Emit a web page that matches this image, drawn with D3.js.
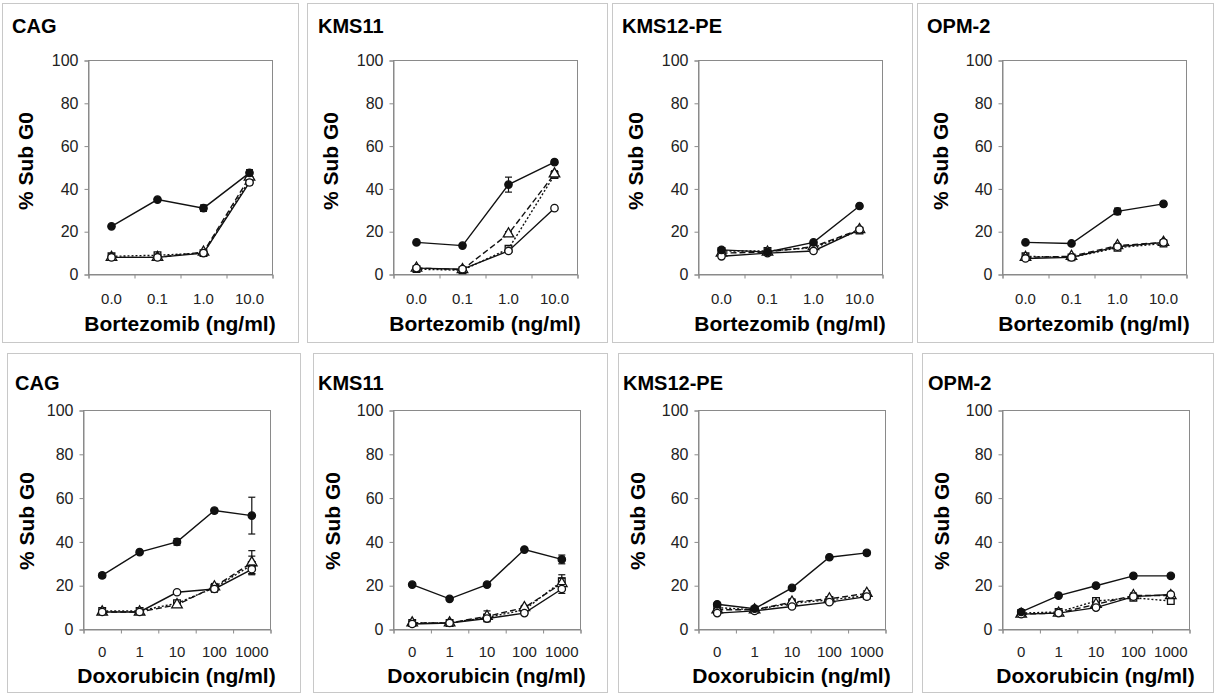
<!DOCTYPE html>
<html>
<head>
<meta charset="utf-8">
<script src="https://cdn.jsdelivr.net/npm/d3@7"></script>
<style>
  body { margin:0; background:#fff; }
  svg text { font-family: "Liberation Sans", Arial, sans-serif; }
</style>
</head>
<body>
<div id="canvas"></div>
<script>
// ---- data ----
var cellLines = ['CAG', 'KMS11', 'KMS12-PE', 'OPM-2'];
var bortDoses = ['0.0', '0.1', '1.0', '10.0'];
var doxDoses = ['0', '1', '10', '100', '1000'];
var drugLabels = ['Bortezomib (ng/ml)', 'Doxorubicin (ng/ml)'];
var yTicks = [0, 20, 40, 60, 80, 100];

// each panel: 4 series (filled circle/solid, open circle/solid, triangle/dashed, square/dotted)
var bortCAG = [[22.5, 35, 31, 47.5], [8, 8, 10, 43], [8, 8, 10.5, 45.5], [8.5, 9, 10, 44]];
var bortCAGErr = [[0.8, 0.6, 1.5, 1.5], [0.5, 0.5, 0.6, 1.2], [0.5, 0.5, 0.6, 1.5], [0.5, 0.8, 0.6, 1.5]];
var bortKMS11 = [[15, 13.5, 42, 52.5], [3, 2.5, 11, 31], [3, 2.3, 19, 47], [2.5, 2, 12, 46.5]];
var bortKMS11Err = [[0.5, 0.8, 3.5, 1], [0.5, 0.5, 0.8, 0.8], [0.5, 0.5, 1, 1.5], [0.5, 0.5, 1, 1]];
var bortKMS12 = [[11.5, 10.5, 15, 32], [8.5, 10, 11, 21], [10, 10.5, 13, 21], [11, 11, 12.5, 20.5]];
var bortKMS12Err = [[0.6, 0.5, 0.6, 0.6], [0.5, 0.5, 0.8, 0.8], [0.5, 0.5, 0.6, 1], [0.6, 0.8, 0.6, 0.8]];
var bortOPM2 = [[15, 14.5, 29.5, 33], [7.5, 8, 13, 15], [8, 8.5, 13.5, 15], [8.5, 8, 12.5, 14.5]];
var bortOPM2Err = [[0.5, 0.5, 1.5, 1], [0.5, 0.5, 0.8, 1.2], [0.5, 0.5, 0.6, 1.2], [0.8, 0.5, 0.6, 1.2]];

var doxCAG = [[24.7, 35.3, 40, 54.3, 52], [8, 8, 17, 18.5, 27.5], [8, 8, 11.3, 19.5, 30.5], [8.5, 8.5, 12, 19, 29.5]];
var doxCAGErr = [[1, 0.8, 1.5, 1, 8.4], [0.5, 0.5, 0.6, 1.5, 2], [0.5, 0.5, 0.8, 1.5, 5.5], [0.6, 0.6, 0.8, 1.2, 4]];
var doxKMS11 = [[20.5, 14, 20.5, 36.5, 32], [2.5, 3, 5, 7.5, 18.5], [3, 3, 6, 10, 21], [3, 3, 5.5, 9, 22]];
var doxKMS11Err = [[0.6, 0.6, 0.6, 0.6, 2], [0.5, 0.5, 1, 1, 2], [0.5, 0.5, 2.5, 1, 2.5], [0.5, 0.5, 1, 1, 3]];
var doxKMS12 = [[11.5, 9.5, 19, 33, 35], [7.5, 8.5, 10.5, 12.5, 15], [9, 9, 12.5, 14, 16.5], [10, 9, 12, 13.5, 15.5]];
var doxKMS12Err = [[0.6, 0.6, 0.6, 0.5, 1], [0.5, 0.5, 0.6, 0.6, 0.8], [0.6, 0.6, 1.5, 1, 1.2], [0.6, 0.6, 1, 1, 1]];
var doxOPM2 = [[8, 15.5, 20, 24.5, 24.5], [7, 7.5, 10, 15, 16], [7, 7.5, 11.5, 15.5, 15.5], [7.5, 8, 13, 14.5, 13]];
var doxOPM2Err = [[0.5, 0.5, 0.5, 1, 0.8], [0.5, 0.5, 0.6, 1, 1], [0.5, 0.5, 1, 1.2, 1], [0.5, 0.5, 1.2, 1, 1]];

var topValues = [bortCAG, bortKMS11, bortKMS12, bortOPM2];
var topErrors = [bortCAGErr, bortKMS11Err, bortKMS12Err, bortOPM2Err];
var bottomValues = [doxCAG, doxKMS11, doxKMS12, doxOPM2];
var bottomErrors = [doxCAGErr, doxKMS11Err, doxKMS12Err, doxOPM2Err];

// ---- layout ----
var W = 1220, H = 698;
var rows = [
  { doses: bortDoses, values: topValues, errors: topErrors, drug: drugLabels[0],
    boxY: 3, boxH: 339, boxes: [[2, 296], [307, 300], [612, 300], [917, 296]],
    axisX: [88, 393, 698, 1002], plotW: 184, y0: 60, y1: 274,
    titleX: [12, 318, 622, 927], titleY: 33, tickY: 303, labelY: 331, yLabCy: 161, yLabDx: 31 },
  { doses: doxDoses, values: bottomValues, errors: bottomErrors, drug: drugLabels[1],
    boxY: 353, boxH: 339, boxes: [[7, 293], [313, 294], [618, 294], [922, 291]],
    axisX: [83, 393, 698, 1002], plotW: 187, y0: 410, y1: 629,
    titleX: [15, 318, 623, 928], titleY: 390, tickY: 656, labelY: 683, yLabCy: 521, yLabDx: 27 }
];

var dashes = [null, null, '6,3', '2,2'];
var ink = '#111';

var svg = d3.select('#canvas').append('svg')
  .attr('width', W)
  .attr('height', H);

rows.forEach(function(row) {
  cellLines.forEach(function(name, i) {
    var bx = row.boxes[i][0], bw = row.boxes[i][1];

    // panel frame
    svg.append('rect')
      .attr('x', bx + 0.5).attr('y', row.boxY + 0.5)
      .attr('width', bw).attr('height', row.boxH)
      .attr('fill', 'none').attr('stroke', '#c8c8c8').attr('stroke-width', 1);

    svg.append('text')
      .attr('x', row.titleX[i]).attr('y', row.titleY)
      .style('font-size', '20px').style('font-weight', 'bold').attr('fill', '#000')
      .text(name);

    var w = row.plotW, h = row.y1 - row.y0;
    var plot = svg.append('g')
      .attr('transform', 'translate(' + (row.axisX[i] + 0.5) + ',' + (row.y0 + 0.5) + ')');

    var scaleX = d3.scaleBand().domain(row.doses).range([0, w]);
    var scaleY = d3.scaleLinear().domain([0, 100]).range([h, 0]);
    var cx = function(j) { return scaleX(row.doses[j]) + scaleX.bandwidth() / 2; };

    // plot frame
    plot.append('rect')
      .attr('width', w).attr('height', h)
      .attr('fill', 'none').attr('stroke', '#8a8a8a');

    // y axis
    var yAxis = d3.axisLeft(scaleY).tickValues(yTicks).tickSize(4).tickPadding(6);
    var gy = plot.append('g').call(yAxis);
    gy.select('.domain').attr('stroke', '#8a8a8a');
    gy.selectAll('.tick line').attr('stroke', '#8a8a8a');
    gy.selectAll('.tick text').style('font-size', '16px').attr('fill', '#222')
      .style('font-family', '"Liberation Sans", Arial, sans-serif');

    // x axis: ticks at category boundaries, labels at centres
    var edge = d3.scaleLinear().domain([0, row.doses.length]).range([0, w]);
    var gx = plot.append('g').attr('transform', 'translate(0,' + h + ')')
      .call(d3.axisBottom(edge).ticks(row.doses.length).tickSize(4).tickFormat(''));
    gx.select('.domain').attr('stroke', '#8a8a8a');
    gx.selectAll('.tick line').attr('stroke', '#8a8a8a');

    plot.selectAll('.xlab').data(row.doses).enter()
      .append('text')
      .attr('class', 'xlab')
      .attr('x', function(d, j) { return cx(j); })
      .attr('y', row.tickY - row.y0)
      .attr('text-anchor', 'middle')
      .style('font-size', '15px').attr('fill', '#222')
      .text(function(d) { return d; });

    svg.append('text')
      .attr('x', row.axisX[i] + w / 2).attr('y', row.labelY)
      .attr('text-anchor', 'middle')
      .style('font-size', '21px').style('font-weight', 'bold').attr('fill', '#000')
      .text(row.drug);

    svg.append('text')
      .attr('transform', 'translate(' + (bx + row.yLabDx) + ',' + row.yLabCy + ') rotate(-90)')
      .attr('text-anchor', 'middle')
      .style('font-size', '21px').style('font-weight', 'bold').attr('fill', '#000')
      .text('% Sub G0');

    var vals = row.values[i], errs = row.errors[i];
    var line = d3.line()
      .x(function(d, j) { return cx(j); })
      .y(function(d) { return scaleY(d); });

    // draw back to front: dotted, dashed, open circle, filled circle
    [3, 2, 1, 0].forEach(function(s) {
      plot.append('path')
        .datum(vals[s])
        .attr('d', line)
        .attr('fill', 'none')
        .attr('stroke', ink)
        .attr('stroke-width', 1.4)
        .attr('stroke-dasharray', dashes[s]);
    });

    [3, 2, 1, 0].forEach(function(s) {
      var g = plot.append('g');
      vals[s].forEach(function(v, j) {
        var e = errs[s][j], x = cx(j);
        g.append('line').attr('x1', x).attr('x2', x)
          .attr('y1', scaleY(v - e)).attr('y2', scaleY(v + e))
          .attr('stroke', ink).attr('stroke-width', 1.2);
        [v - e, v + e].forEach(function(yy) {
          g.append('line').attr('x1', x - 3.5).attr('x2', x + 3.5)
            .attr('y1', scaleY(yy)).attr('y2', scaleY(yy))
            .attr('stroke', ink).attr('stroke-width', 1.2);
        });
      });

      var pts = g.selectAll('.pt').data(vals[s]).enter();
      if (s === 0 || s === 1) {
        pts.append('circle')
          .attr('cx', function(d, j) { return cx(j); })
          .attr('cy', function(d) { return scaleY(d); })
          .attr('r', 3.7)
          .attr('fill', s === 0 ? ink : '#fff')
          .attr('stroke', ink).attr('stroke-width', 1.3);
      } else {
        var sym = d3.symbol().type(s === 2 ? d3.symbolTriangle : d3.symbolSquare).size(s === 2 ? 48 : 44);
        pts.append('path')
          .attr('d', sym)
          .attr('transform', function(d, j) { return 'translate(' + cx(j) + ',' + scaleY(d) + ')'; })
          .attr('fill', '#fff')
          .attr('stroke', ink).attr('stroke-width', 1.3);
      }
    });
  });
});
</script>
</body>
</html>
